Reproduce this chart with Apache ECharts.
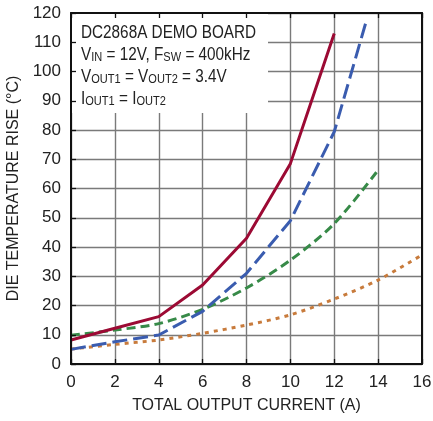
<!DOCTYPE html>
<html><head><meta charset="utf-8">
<script src="https://cdn.jsdelivr.net/npm/echarts@6/dist/echarts.min.js"></script>
<style>html,body{margin:0;padding:0;background:#fff}#c{width:433px;height:421px}</style>
</head><body><div id="c"></div>
<script>
const FONT = '"Liberation Sans Narrow","Liberation Sans",Arial,sans-serif';
const xTicks = [0,2,4,6,8,10,12,14,16];
const yTicks = [0,10,20,30,40,50,60,70,80,90,100,110,120];
const redX = [0,2,4,6,8,10,12];
const redY = [8.2,12.2,16.2,27,43,68.5,113];
const blueX = [0,2,4,6,8,10,12,13.45];
const blueY = [5,7.6,9.9,18,31,49,79.4,117];
const greenX = [0,2,4,6,8,10,12,14];
const greenY = [9.8,11.6,13.8,18.7,26,35.5,48,66.3];
const orangeX = [0,2,4,6,8,10,12,14,16];
const orangeY = [5.1,6.7,8.2,10.5,13.3,16.8,22.2,28.7,37.3];
const xName = 'TOTAL OUTPUT CURRENT (A)';
const yName = 'DIE TEMPERATURE RISE (°C)';
const noteLines = [
  'DC2868A DEMO BOARD',
  'V{s|IN} = 12V, F{s|SW} = 400kHz',
  'V{s|OUT1} = V{s|OUT2} = 3.4V',
  'I{s|OUT1} = I{s|OUT2}'
];
const zip = (a,b)=>a.map((v,i)=>[v,b[i]]);
const chart = echarts.init(document.getElementById('c'));
const xBase = {type:'value',min:0,max:16,interval:2,gridIndex:0};
const yBase = {type:'value',min:0,max:120,interval:10,gridIndex:0};
const lab = {color:'#222',fontFamily:FONT,fontSize:17};
const nm = {color:'#222',fontFamily:FONT,fontSize:16};
chart.setOption({
  animation:false,
  grid:{left:71,right:11,top:13,bottom:57,containLabel:false,outerBoundsMode:'none'},
  xAxis:[
    Object.assign({},xBase,{z:0,axisLine:{show:false},axisTick:{show:false},axisLabel:{show:false},
      splitLine:{show:true,lineStyle:{color:'#7a7a7a',width:1.4}}}),
    Object.assign({},xBase,{z:5,position:'bottom',axisLine:{show:true,onZero:false,lineStyle:{color:'#111',width:2}},
      axisTick:{show:true,inside:true,length:5,lineStyle:{color:'#111',width:1.3}},
      axisLabel:Object.assign({margin:10},lab),splitLine:{show:false},
      name:xName,nameLocation:'middle',nameGap:34,nameTextStyle:nm}),
    Object.assign({},xBase,{z:5,position:'top',axisLine:{show:true,onZero:false,lineStyle:{color:'#111',width:2}},
      axisTick:{show:true,inside:true,length:5,lineStyle:{color:'#111',width:1.3}},
      axisLabel:{show:false},splitLine:{show:false}})
  ],
  yAxis:[
    Object.assign({},yBase,{z:0,axisLine:{show:false},axisTick:{show:false},axisLabel:{show:false},
      splitLine:{show:true,lineStyle:{color:'#7a7a7a',width:1.4}}}),
    Object.assign({},yBase,{z:5,position:'left',axisLine:{show:true,onZero:false,lineStyle:{color:'#111',width:2}},
      axisTick:{show:true,inside:true,length:5,lineStyle:{color:'#111',width:1.3}},
      axisLabel:Object.assign({margin:10},lab),splitLine:{show:false},
      name:yName,nameLocation:'middle',nameGap:44,nameTextStyle:nm}),
    Object.assign({},yBase,{z:5,position:'right',axisLine:{show:true,onZero:false,lineStyle:{color:'#111',width:2}},
      axisTick:{show:false},axisLabel:{show:false},splitLine:{show:false}})
  ],
  graphic:[
    {type:'rect',z:1,shape:{x:72,y:14,width:196,height:99},style:{fill:'#fff'}},
    {type:'group',z:6,x:81,y:24,scaleX:0.85,children:noteLines.map((t,i)=>({
      type:'text',z:6,x:0,y:i*22,style:{text:t,fill:'#222',font:'18px '+FONT,
        rich:{s:{fontSize:13,fontFamily:FONT,fill:'#222',lineHeight:12,verticalAlign:'bottom'}}}
    }))}
  ],
  series:[
    {type:'line',z:3,xAxisIndex:0,yAxisIndex:0,data:zip(orangeX,orangeY),showSymbol:false,smooth:0.3,
      lineStyle:{color:'#c87b3c',width:3,type:[4,5]}},
    {type:'line',z:3,xAxisIndex:0,yAxisIndex:0,data:zip(greenX,greenY),showSymbol:false,smooth:0.3,
      lineStyle:{color:'#378a48',width:3,type:[9,5]}},
    {type:'line',z:3,xAxisIndex:0,yAxisIndex:0,data:zip(blueX,blueY),showSymbol:false,
      lineStyle:{color:'#3a5caf',width:3,type:[15,6]}},
    {type:'line',z:3,xAxisIndex:0,yAxisIndex:0,data:zip(redX,redY),showSymbol:false,
      lineStyle:{color:'#9c0a34',width:3}}
  ]
});
</script></body></html>
